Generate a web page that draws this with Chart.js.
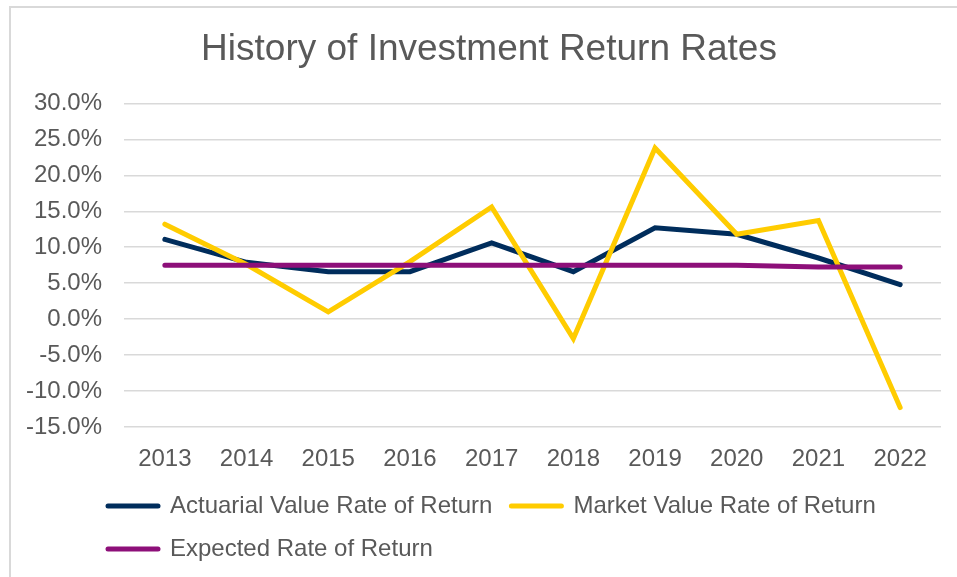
<!DOCTYPE html>
<html>
<head>
<meta charset="utf-8">
<script src="https://cdn.jsdelivr.net/npm/chart.js@4/dist/chart.umd.min.js"></script>
<style>
    body { margin: 0; background: #fff; overflow: hidden; }
    #wrap { position: relative; width: 957px; height: 577px; }
    #frame {
        position: absolute; left: 9px; top: 6px; width: 960px; height: 580px;
        border-left: 2px solid #d9d9d9; border-top: 2px solid #d9d9d9;
    }
    #returnChart { position: absolute; left: 0; top: 0; }
</style>
</head>
<body>
<div id="wrap">
    <div id="frame"></div>
    <canvas id="returnChart" width="957" height="577"></canvas>
</div>
<script>
// Chart values (percent)
const years = ['2013', '2014', '2015', '2016', '2017', '2018', '2019', '2020', '2021', '2022'];
const actuarialReturn = [11.1, 7.9, 6.6, 6.6, 10.6, 6.6, 12.7, 11.8, 8.5, 4.8];
const marketReturn = [13.2, 7.6, 1.0, 8.0, 15.6, -2.7, 23.8, 11.8, 13.7, -12.3];
const expectedReturn = [7.5, 7.5, 7.5, 7.5, 7.5, 7.5, 7.5, 7.5, 7.25, 7.25];

const textColor = '#595959';
const fontFamily = '"Liberation Sans", Arial, sans-serif';

// Excel puts the legend rows flush left and the title a little right of centre
const boxShift = {
    id: 'boxShift',
    beforeDraw(chart) {
        chart.legend.left = 89;
        chart.titleBlock.left = 37;
    }
};

const ctx = document.getElementById('returnChart').getContext('2d');
const returnChart = new Chart(ctx, {
    type: 'line',
    data: {
        labels: years,
        datasets: [
            {
                label: 'Actuarial Value Rate of Return',
                data: actuarialReturn,
                borderColor: '#002D5C',
                backgroundColor: '#002D5C',
                order: 3
            },
            {
                label: 'Market Value Rate of Return',
                data: marketReturn,
                borderColor: '#FFCC00',
                backgroundColor: '#FFCC00',
                order: 2
            },
            {
                label: 'Expected Rate of Return',
                data: expectedReturn,
                borderColor: '#8D0F79',
                backgroundColor: '#8D0F79',
                order: 1
            }
        ]
    },
    options: {
        responsive: false,
        animation: false,
        layout: { padding: { left: 22, right: 16, top: 0, bottom: 6 } },
        elements: {
            line: { borderWidth: 5, tension: 0, borderCapStyle: 'round', borderJoinStyle: 'miter' },
            point: { radius: 0, hoverRadius: 0 }
        },
        scales: {
            x: {
                offset: true,
                grid: { display: false },
                border: { display: false },
                ticks: {
                    color: textColor,
                    padding: 10,
                    maxRotation: 0,
                    font: { family: fontFamily, size: 24 }
                },
                afterFit: scale => { scale.height = 48; }
            },
            y: {
                min: -15,
                max: 30,
                grid: { color: '#d9d9d9', lineWidth: 1.5, drawTicks: false },
                border: { display: false },
                ticks: {
                    stepSize: 5,
                    color: textColor,
                    padding: 22,
                    font: { family: fontFamily, size: 24 },
                    callback: value => value.toFixed(1) + '%'
                },
                afterFit: scale => { scale.width = 102; }
            }
        },
        plugins: {
            title: {
                display: true,
                text: 'History of Investment Return Rates',
                color: textColor,
                font: { family: fontFamily, size: 37, weight: 'normal' },
                padding: { top: 28, bottom: 31 }
            },
            legend: {
                position: 'bottom',
                align: 'start',
                labels: {
                    usePointStyle: true,
                    pointStyle: 'line',
                    pointStyleWidth: 50,
                    padding: 19,
                    color: textColor,
                    font: { family: fontFamily, size: 24 },
                    generateLabels: chart => {
                        const items = Chart.defaults.plugins.legend.labels.generateLabels(chart);
                        items.forEach(item => {
                            item.lineWidth = 5;
                            item.lineCap = 'round';
                        });
                        return items.sort((a, b) => a.datasetIndex - b.datasetIndex);
                    }
                }
            },
            tooltip: { enabled: false }
        }
    },
    plugins: [boxShift]
});
</script>
</body>
</html>
